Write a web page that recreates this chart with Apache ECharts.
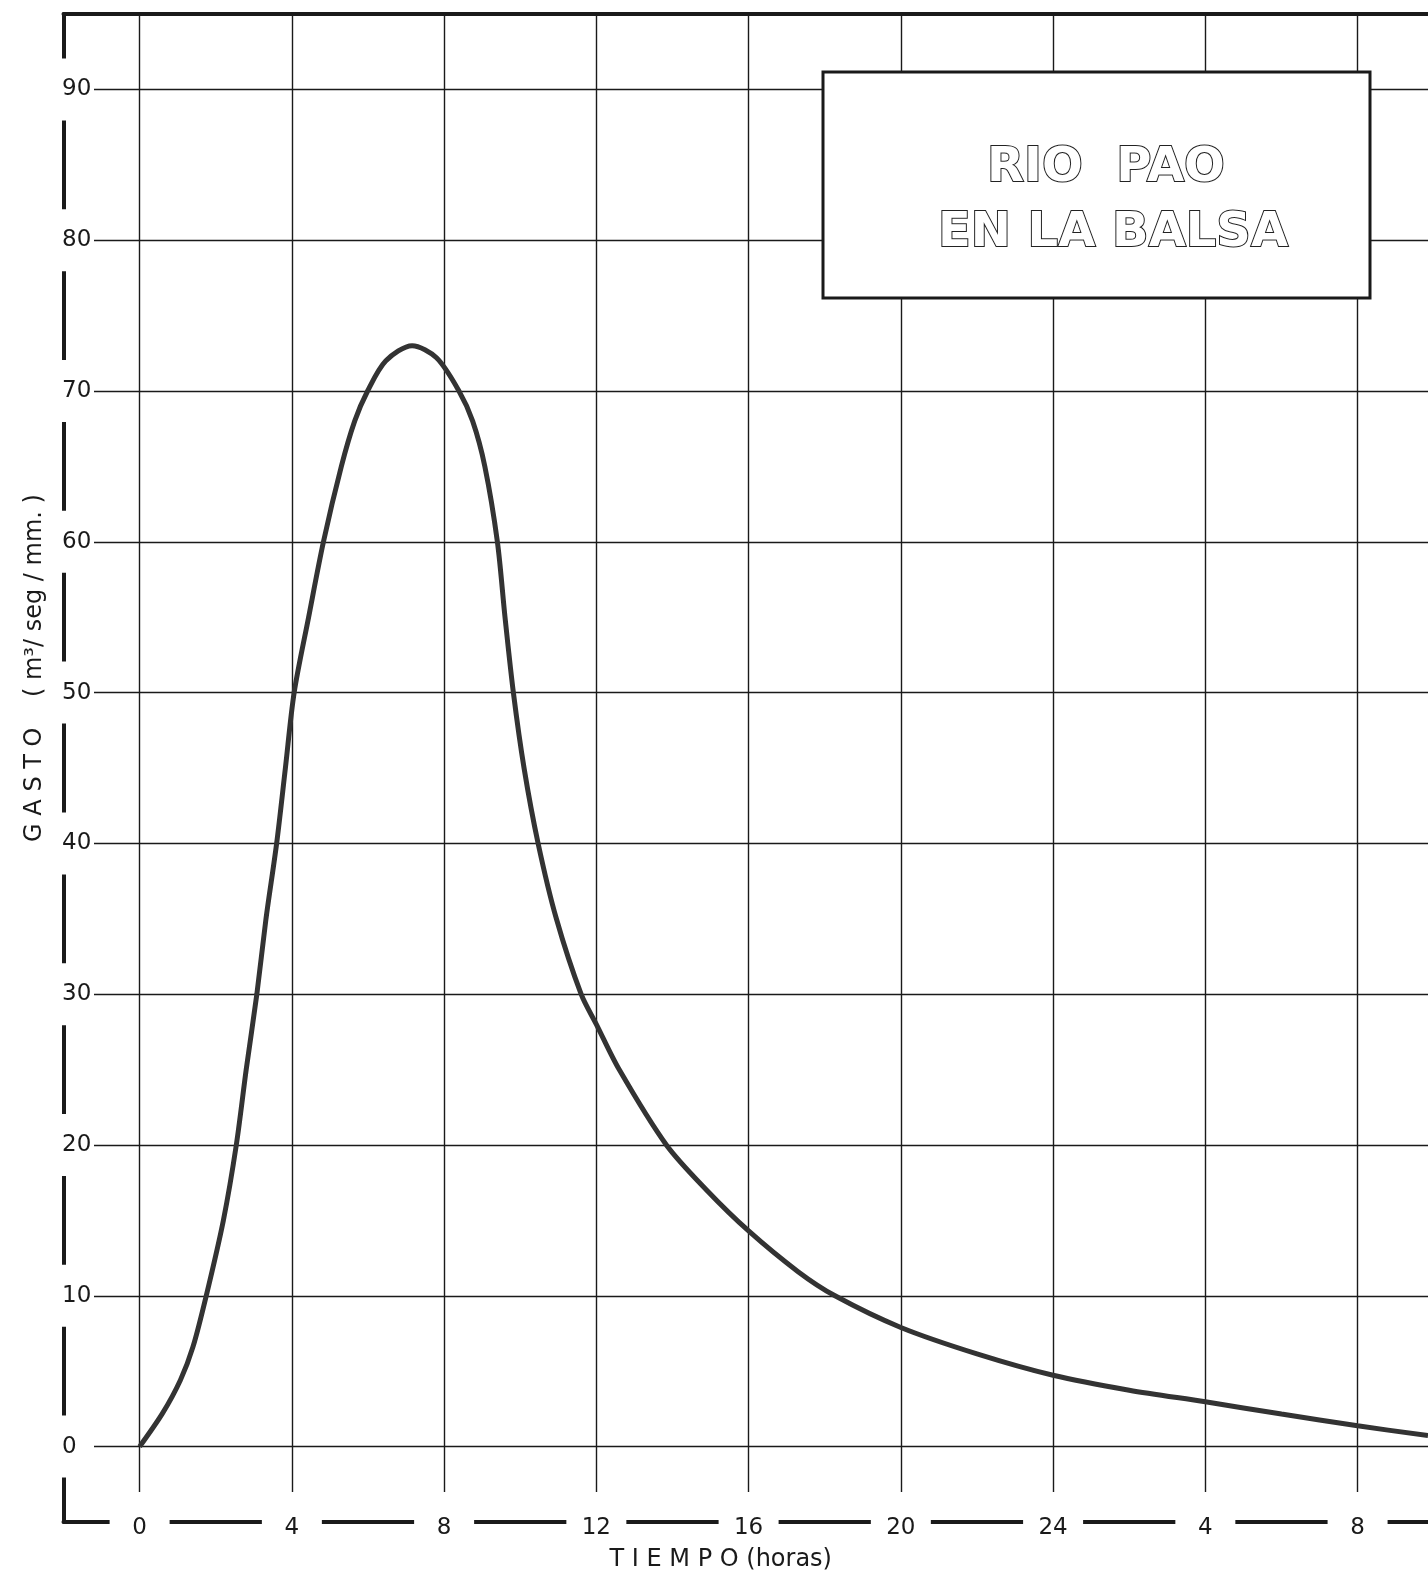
<!DOCTYPE html>
<html>
<head>
<meta charset="utf-8">
<script src="https://cdn.jsdelivr.net/npm/echarts/dist/echarts.min.js"></script>
<style>
html,body{margin:0;padding:0;background:#fff;}
#chart{width:1428px;height:1577px;}
</style>
</head>
<body>
<div id="chart"></div>
<script>
// ---- data ----
const hours = [0, 0.6, 1.07, 1.4, 1.75, 2.2, 2.54, 2.8, 3.08, 3.32, 3.6, 3.83, 4.06, 4.44, 4.83, 5.3, 5.65, 5.99, 6.47, 7.16, 7.8, 8.39, 8.75, 9.07, 9.4, 9.6, 9.82, 10.1, 10.47, 10.95, 11.6, 12.0, 12.6, 13.84, 14.9, 16.0, 17.3, 18.27, 20, 22, 24, 26, 28, 30, 32, 33.85];
const gasto = [0, 2.2, 4.4, 6.6, 10, 15, 20, 25, 30, 35, 40, 45, 50, 55, 60, 65, 68, 70, 72, 73, 72.2, 70, 68, 65, 60, 55, 50, 45, 40, 35, 30, 28, 25, 20, 17, 14.3, 11.6, 10, 7.9, 6.15, 4.73, 3.74, 2.97, 2.16, 1.38, 0.73];
const xTickValues = [0, 4, 8, 12, 16, 20, 24, 28, 32];
const xTickLabels = ['0', '4', '8', '12', '16', '20', '24', '4', '8'];
const yTickValues = [0, 10, 20, 30, 40, 50, 60, 70, 80, 90];
const yTickLabels = ['0', '10', '20', '30', '40', '50', '60', '70', '80', '90'];
const titleLines = ['RIO  PAO', 'EN LA BALSA'];
const xName = 'T I E M P O (horas)';
const yName = 'G A S T O    ( m³/ seg / mm. )';

const ink = '#1a1a1a';
const font = 'DejaVu Sans';
const chart = echarts.init(document.getElementById('chart'));
chart.setOption({
  animation: false,
  backgroundColor: '#ffffff',
  grid: { left: 63.5, right: 0, top: 14, bottom: 54.6, containLabel: false },
  xAxis: [{
    type: 'value', min: -2, max: 33.85, position: 'bottom',
    axisLine: { show: true, onZero: false, lineStyle: { color: ink, width: 4 } },
    axisTick: { show: false, customValues: xTickValues },
    splitLine: { show: true, lineStyle: { color: ink, width: 1.4 } },
    axisLabel: {
      customValues: xTickValues,
      formatter: v => xTickLabels[xTickValues.indexOf(v)],
      margin: -30, padding: [26, 0, 0, 0], lineHeight: 20, width: 60, align: 'center',
      backgroundColor: '#ffffff', color: ink, fontSize: 23, fontFamily: font
    },
    name: xName, nameLocation: 'middle', nameGap: 26,
    nameTextStyle: { fontSize: 24, color: ink, fontFamily: font, padding: [0, 50, 0, 0] }
  }, {
    type: 'value', min: -2, max: 33.85, position: 'top',
    axisLine: { show: true, onZero: false, lineStyle: { color: ink, width: 4 } },
    axisTick: { show: false }, axisLabel: { show: false }, splitLine: { show: false }
  }],
  yAxis: [{
    type: 'value', min: -5, max: 95, position: 'left',
    axisLine: { show: true, onZero: false, lineStyle: { color: ink, width: 4 } },
    axisTick: { show: false, customValues: yTickValues },
    splitLine: { show: true, lineStyle: { color: ink, width: 1.4 } },
    axisLabel: {
      customValues: yTickValues,
      formatter: v => yTickLabels[yTickValues.indexOf(v)],
      margin: 5.5, padding: [0, 3, 0, 4], lineHeight: 62, width: 29, align: 'left',
      backgroundColor: '#ffffff', color: ink, fontSize: 23, fontFamily: font
    },
    name: yName, nameLocation: 'middle', nameGap: 13, nameRotate: 90,
    nameTextStyle: { fontSize: 24, color: ink, fontFamily: font, padding: [0, 0, 0, 200] }
  }],
  series: [{
    type: 'line',
    data: hours.map((h, i) => [h, gasto[i]]),
    showSymbol: false,
    smooth: 0.3,
    lineStyle: { color: '#333333', width: 5 },
    z: 5
  }],
  graphic: [{
    type: 'rect', z: 10,
    shape: { x: 823, y: 72, width: 547, height: 226 },
    style: { fill: '#ffffff', stroke: ink, lineWidth: 3 }
  }, {
    type: 'text', z: 11, x: 1106, y: 169,
    style: { text: titleLines[0], align: 'center', verticalAlign: 'middle', font: 'bold 48px "DejaVu Sans"', fill: '#ffffff', stroke: '#222', lineWidth: 2 }
  }, {
    type: 'text', z: 11, x: 1113, y: 234,
    style: { text: titleLines[1], align: 'center', verticalAlign: 'middle', font: 'bold 48px "DejaVu Sans"', fill: '#ffffff', stroke: '#222', lineWidth: 2 }
  }]
});
</script>
</body>
</html>
